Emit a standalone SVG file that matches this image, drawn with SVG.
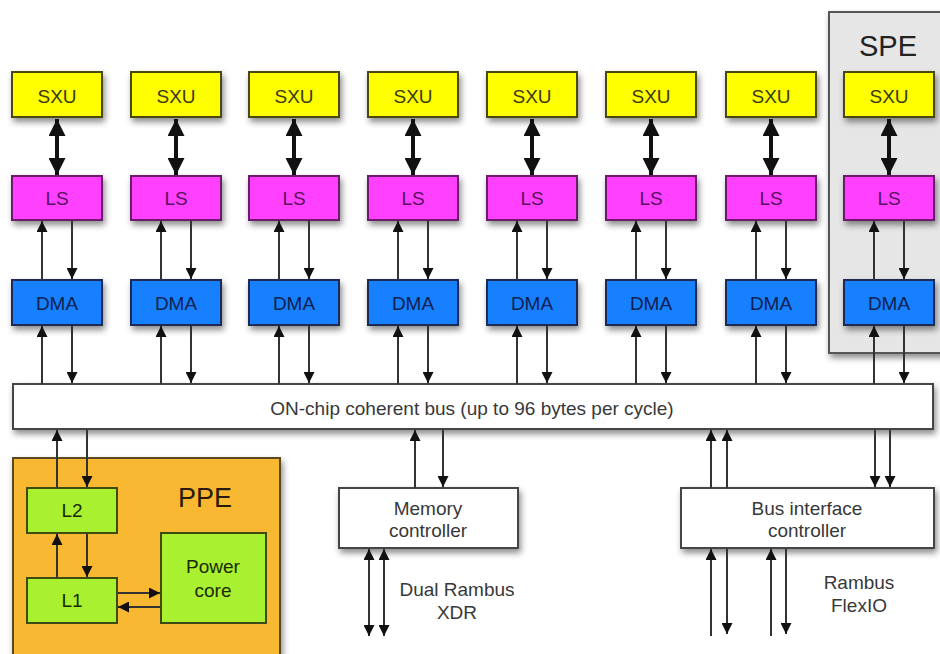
<svg xmlns="http://www.w3.org/2000/svg" width="940" height="654" viewBox="0 0 940 654">
<style>
text{font-family:"Liberation Sans",Arial,sans-serif;text-anchor:middle}
.sxu{fill:#ffff00;stroke:#4a4a10;stroke-width:2}
.ls{fill:#ff40ff;stroke:#6a1a6a;stroke-width:2}
.dma{fill:#1380ff;stroke:#1a2a55;stroke-width:2}
.wb{fill:#ffffff;stroke:#444;stroke-width:2}
.gb{fill:#a8f030;stroke:#3d4a10;stroke-width:2}
.t16{font-size:19px}
.tsxu{fill:#3a3a10}
.tls{fill:#5a1060}
.tdma{fill:#102050}
.tg{fill:#1a2a05}
.tw{fill:#383838;font-size:19px}
.thin{stroke:#333;stroke-width:2;fill:none}
.thick{stroke:#111;stroke-width:4;fill:none}
</style>
<defs>
<filter id="sh" x="-20%" y="-20%" width="150%" height="160%">
<feDropShadow dx="2" dy="4" stdDeviation="3" flood-color="#000" flood-opacity="0.45"/>
</filter>
<marker id="ah" viewBox="0 0 10 10" refX="10" refY="5" markerUnits="userSpaceOnUse" markerWidth="11" markerHeight="11" orient="auto-start-reverse">
<path d="M0,0 L10,5 L0,10 z" fill="#111"/>
</marker>
<marker id="ahb" viewBox="0 0 10 10" refX="10" refY="5" markerUnits="userSpaceOnUse" markerWidth="17" markerHeight="17" orient="auto-start-reverse">
<path d="M0,0 L10,5 L0,10 z" fill="#111"/>
</marker>
</defs>
<rect width="940" height="654" fill="#fff"/>

<g id="spe-panel">
<rect x="829" y="12" width="130" height="341" fill="#e6e6e6" stroke="#555" stroke-width="2" filter="url(#sh)"/>
<text x="888" y="56" style="font-size:29px;fill:#222">SPE</text>
</g>

<g id="ppe-panel">
<rect x="13" y="458" width="267" height="210" fill="#f8b830" stroke="#5a4a20" stroke-width="2" filter="url(#sh)"/>
<text x="205" y="507" style="font-size:27px;fill:#2a1a05">PPE</text>
</g>

<g id="sxu">
<g id="sxu1"><rect class="sxu" x="12" y="72" width="90" height="45" filter="url(#sh)"/><text class="t16 tsxu" x="57" y="103">SXU</text></g>
<g id="sxu2"><rect class="sxu" x="131" y="72" width="90" height="45" filter="url(#sh)"/><text class="t16 tsxu" x="176" y="103">SXU</text></g>
<g id="sxu3"><rect class="sxu" x="249" y="72" width="90" height="45" filter="url(#sh)"/><text class="t16 tsxu" x="294" y="103">SXU</text></g>
<g id="sxu4"><rect class="sxu" x="368" y="72" width="90" height="45" filter="url(#sh)"/><text class="t16 tsxu" x="413" y="103">SXU</text></g>
<g id="sxu5"><rect class="sxu" x="487" y="72" width="90" height="45" filter="url(#sh)"/><text class="t16 tsxu" x="532" y="103">SXU</text></g>
<g id="sxu6"><rect class="sxu" x="606" y="72" width="90" height="45" filter="url(#sh)"/><text class="t16 tsxu" x="651" y="103">SXU</text></g>
<g id="sxu7"><rect class="sxu" x="726" y="72" width="90" height="45" filter="url(#sh)"/><text class="t16 tsxu" x="771" y="103">SXU</text></g>
<g id="sxu8"><rect class="sxu" x="844" y="72" width="90" height="45" filter="url(#sh)"/><text class="t16 tsxu" x="889" y="103">SXU</text></g>
</g>

<g id="ls">
<g id="ls1"><rect class="ls" x="12" y="176" width="90" height="44" filter="url(#sh)"/><text class="t16 tls" x="57" y="205">LS</text></g>
<g id="ls2"><rect class="ls" x="131" y="176" width="90" height="44" filter="url(#sh)"/><text class="t16 tls" x="176" y="205">LS</text></g>
<g id="ls3"><rect class="ls" x="249" y="176" width="90" height="44" filter="url(#sh)"/><text class="t16 tls" x="294" y="205">LS</text></g>
<g id="ls4"><rect class="ls" x="368" y="176" width="90" height="44" filter="url(#sh)"/><text class="t16 tls" x="413" y="205">LS</text></g>
<g id="ls5"><rect class="ls" x="487" y="176" width="90" height="44" filter="url(#sh)"/><text class="t16 tls" x="532" y="205">LS</text></g>
<g id="ls6"><rect class="ls" x="606" y="176" width="90" height="44" filter="url(#sh)"/><text class="t16 tls" x="651" y="205">LS</text></g>
<g id="ls7"><rect class="ls" x="726" y="176" width="90" height="44" filter="url(#sh)"/><text class="t16 tls" x="771" y="205">LS</text></g>
<g id="ls8"><rect class="ls" x="844" y="176" width="90" height="44" filter="url(#sh)"/><text class="t16 tls" x="889" y="205">LS</text></g>
</g>

<g id="dma">
<g id="dma1"><rect class="dma" x="12" y="280" width="90" height="45" filter="url(#sh)"/><text class="t16 tdma" x="57" y="310">DMA</text></g>
<g id="dma2"><rect class="dma" x="131" y="280" width="90" height="45" filter="url(#sh)"/><text class="t16 tdma" x="176" y="310">DMA</text></g>
<g id="dma3"><rect class="dma" x="249" y="280" width="90" height="45" filter="url(#sh)"/><text class="t16 tdma" x="294" y="310">DMA</text></g>
<g id="dma4"><rect class="dma" x="368" y="280" width="90" height="45" filter="url(#sh)"/><text class="t16 tdma" x="413" y="310">DMA</text></g>
<g id="dma5"><rect class="dma" x="487" y="280" width="90" height="45" filter="url(#sh)"/><text class="t16 tdma" x="532" y="310">DMA</text></g>
<g id="dma6"><rect class="dma" x="606" y="280" width="90" height="45" filter="url(#sh)"/><text class="t16 tdma" x="651" y="310">DMA</text></g>
<g id="dma7"><rect class="dma" x="726" y="280" width="90" height="45" filter="url(#sh)"/><text class="t16 tdma" x="771" y="310">DMA</text></g>
<g id="dma8"><rect class="dma" x="844" y="280" width="90" height="45" filter="url(#sh)"/><text class="t16 tdma" x="889" y="310">DMA</text></g>
</g>

<g id="bus">
<rect class="wb" x="13" y="384" width="920" height="45" filter="url(#sh)"/>
<text class="tw" x="472" y="415">ON-chip coherent bus (up to 96 bytes per cycle)</text>
</g>

<g id="ppe-nodes">
<g id="l2"><rect class="gb" x="27" y="488" width="90" height="45"/><text class="t16 tg" x="72" y="517">L2</text></g>
<g id="l1"><rect class="gb" x="27" y="578" width="90" height="45"/><text class="t16 tg" x="72" y="607">L1</text></g>
<g id="power-core"><rect class="gb" x="161" y="533" width="105" height="90"/><text class="t16 tg" x="213" y="573">Power</text><text class="t16 tg" x="213" y="597">core</text></g>
</g>

<g id="memory-controller">
<rect class="wb" x="339" y="488" width="179" height="60" filter="url(#sh)"/>
<text class="tw" x="428" y="515">Memory</text>
<text class="tw" x="428" y="537">controller</text>
</g>

<g id="bus-interface-controller">
<rect class="wb" x="681" y="488" width="253" height="60" filter="url(#sh)"/>
<text class="tw" x="807" y="515">Bus interface</text>
<text class="tw" x="807" y="537">controller</text>
</g>

<g id="labels">
<text class="tw" x="457" y="596">Dual Rambus</text>
<text class="tw" x="457" y="619">XDR</text>
<text class="tw" x="859" y="589">Rambus</text>
<text class="tw" x="859" y="612">FlexIO</text>
</g>

<g id="connectors">
<line class="thick" x1="57" y1="119" x2="57" y2="175" marker-start="url(#ahb)" marker-end="url(#ahb)"/>
<line class="thick" x1="176" y1="119" x2="176" y2="175" marker-start="url(#ahb)" marker-end="url(#ahb)"/>
<line class="thick" x1="294" y1="119" x2="294" y2="175" marker-start="url(#ahb)" marker-end="url(#ahb)"/>
<line class="thick" x1="413" y1="119" x2="413" y2="175" marker-start="url(#ahb)" marker-end="url(#ahb)"/>
<line class="thick" x1="532" y1="119" x2="532" y2="175" marker-start="url(#ahb)" marker-end="url(#ahb)"/>
<line class="thick" x1="651" y1="119" x2="651" y2="175" marker-start="url(#ahb)" marker-end="url(#ahb)"/>
<line class="thick" x1="771" y1="119" x2="771" y2="175" marker-start="url(#ahb)" marker-end="url(#ahb)"/>
<line class="thick" x1="889" y1="119" x2="889" y2="175" marker-start="url(#ahb)" marker-end="url(#ahb)"/>
<line class="thin" x1="42" y1="280" x2="42" y2="221" marker-end="url(#ah)"/><line class="thin" x1="72" y1="221" x2="72" y2="279" marker-end="url(#ah)"/>
<line class="thin" x1="161" y1="280" x2="161" y2="221" marker-end="url(#ah)"/><line class="thin" x1="191" y1="221" x2="191" y2="279" marker-end="url(#ah)"/>
<line class="thin" x1="279" y1="280" x2="279" y2="221" marker-end="url(#ah)"/><line class="thin" x1="309" y1="221" x2="309" y2="279" marker-end="url(#ah)"/>
<line class="thin" x1="398" y1="280" x2="398" y2="221" marker-end="url(#ah)"/><line class="thin" x1="428" y1="221" x2="428" y2="279" marker-end="url(#ah)"/>
<line class="thin" x1="517" y1="280" x2="517" y2="221" marker-end="url(#ah)"/><line class="thin" x1="547" y1="221" x2="547" y2="279" marker-end="url(#ah)"/>
<line class="thin" x1="636" y1="280" x2="636" y2="221" marker-end="url(#ah)"/><line class="thin" x1="666" y1="221" x2="666" y2="279" marker-end="url(#ah)"/>
<line class="thin" x1="756" y1="280" x2="756" y2="221" marker-end="url(#ah)"/><line class="thin" x1="786" y1="221" x2="786" y2="279" marker-end="url(#ah)"/>
<line class="thin" x1="874" y1="280" x2="874" y2="221" marker-end="url(#ah)"/><line class="thin" x1="904" y1="221" x2="904" y2="279" marker-end="url(#ah)"/>
<line class="thin" x1="42" y1="384" x2="42" y2="326" marker-end="url(#ah)"/><line class="thin" x1="72" y1="326" x2="72" y2="383" marker-end="url(#ah)"/>
<line class="thin" x1="161" y1="384" x2="161" y2="326" marker-end="url(#ah)"/><line class="thin" x1="191" y1="326" x2="191" y2="383" marker-end="url(#ah)"/>
<line class="thin" x1="279" y1="384" x2="279" y2="326" marker-end="url(#ah)"/><line class="thin" x1="309" y1="326" x2="309" y2="383" marker-end="url(#ah)"/>
<line class="thin" x1="398" y1="384" x2="398" y2="326" marker-end="url(#ah)"/><line class="thin" x1="428" y1="326" x2="428" y2="383" marker-end="url(#ah)"/>
<line class="thin" x1="517" y1="384" x2="517" y2="326" marker-end="url(#ah)"/><line class="thin" x1="547" y1="326" x2="547" y2="383" marker-end="url(#ah)"/>
<line class="thin" x1="636" y1="384" x2="636" y2="326" marker-end="url(#ah)"/><line class="thin" x1="666" y1="326" x2="666" y2="383" marker-end="url(#ah)"/>
<line class="thin" x1="756" y1="384" x2="756" y2="326" marker-end="url(#ah)"/><line class="thin" x1="786" y1="326" x2="786" y2="383" marker-end="url(#ah)"/>
<line class="thin" x1="874" y1="384" x2="874" y2="326" marker-end="url(#ah)"/><line class="thin" x1="904" y1="326" x2="904" y2="383" marker-end="url(#ah)"/>
<line class="thin" x1="57" y1="488" x2="57" y2="430" marker-end="url(#ah)"/><line class="thin" x1="87" y1="430" x2="87" y2="487" marker-end="url(#ah)"/>
<line class="thin" x1="57" y1="578" x2="57" y2="534" marker-end="url(#ah)"/><line class="thin" x1="87" y1="534" x2="87" y2="577" marker-end="url(#ah)"/>
<line class="thin" x1="118" y1="593" x2="160" y2="593" marker-end="url(#ah)"/><line class="thin" x1="160" y1="607" x2="118" y2="607" marker-end="url(#ah)"/>
<line class="thin" x1="415" y1="488" x2="415" y2="430" marker-end="url(#ah)"/><line class="thin" x1="443" y1="430" x2="443" y2="487" marker-end="url(#ah)"/>
<line class="thin" x1="369" y1="549" x2="369" y2="636" marker-start="url(#ah)" marker-end="url(#ah)"/>
<line class="thin" x1="384" y1="549" x2="384" y2="636" marker-start="url(#ah)" marker-end="url(#ah)"/>
<line class="thin" x1="711" y1="488" x2="711" y2="430" marker-end="url(#ah)"/><line class="thin" x1="727" y1="488" x2="727" y2="430" marker-end="url(#ah)"/>
<line class="thin" x1="875" y1="430" x2="875" y2="487" marker-end="url(#ah)"/><line class="thin" x1="890" y1="430" x2="890" y2="487" marker-end="url(#ah)"/>
<line class="thin" x1="711" y1="636" x2="711" y2="549" marker-end="url(#ah)"/><line class="thin" x1="727" y1="549" x2="727" y2="634" marker-end="url(#ah)"/>
<line class="thin" x1="771" y1="636" x2="771" y2="549" marker-end="url(#ah)"/><line class="thin" x1="786" y1="549" x2="786" y2="634" marker-end="url(#ah)"/>
</g>
</svg>
